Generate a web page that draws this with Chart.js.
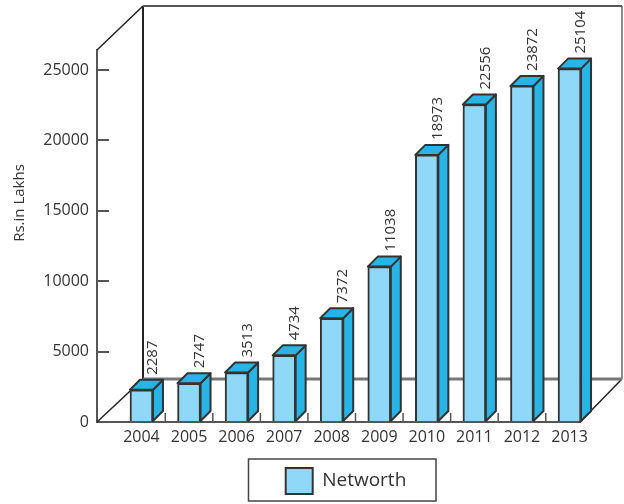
<!DOCTYPE html>
<html>
<head>
<meta charset="utf-8">
<title>Networth</title>
<script src="https://cdn.jsdelivr.net/npm/chart.js@4"></script>
<style>
  html, body { margin: 0; padding: 0; background: #fff; }
  canvas { display: block; }
</style>
</head>
<body>
<canvas id="myChart" width="624" height="504"></canvas>
<script>
var years = [2004, 2005, 2006, 2007, 2008, 2009, 2010, 2011, 2012, 2013];
var networth = [2287, 2747, 3513, 4734, 7372, 11038, 18973, 22556, 23872, 25104];
var yTicks = [0, 5000, 10000, 15000, 20000, 25000];

var fontFamily = '"Open Sans", "Noto Sans", sans-serif';
var textColor = '#333';
var lineColor = '#555';
var frontColor = '#8fd8f8';
var faceColor = '#29b4e6';
var edgeColor = '#333';

// depth of the box behind the plot, and of each bar
var wallDx = 46, wallDy = -43;
var barDx = 10, barDy = -10;

function line(ctx, x1, y1, x2, y2, color, width) {
  ctx.strokeStyle = color;
  ctx.lineWidth = width;
  ctx.beginPath();
  ctx.moveTo(x1, y1);
  ctx.lineTo(x2, y2);
  ctx.stroke();
}

// back wall, floor edges and the small separators between the years
var boxPlugin = {
  id: 'box',
  beforeDatasetsDraw: function (chart) {
    var ctx = chart.ctx, a = chart.chartArea, xs = chart.scales.x;
    var wx = a.left + wallDx, wr = a.right + wallDx - 4, wb = a.bottom + wallDy, wt = a.top - 44;
    ctx.save();
    line(ctx, a.left, a.top, wx, wt, '#222', 1.5);
    line(ctx, wx, wt, wx, wb, '#222', 2);
    line(ctx, wx, wt, wr, wt, lineColor, 2);
    line(ctx, wr, wt, wr, wb, '#666', 1.5);
    line(ctx, a.left, a.bottom, wx, wb, '#222', 1.5);
    line(ctx, a.right, a.bottom, wr, wb, '#222', 1.5);
    line(ctx, wx, wb, wr, wb, '#777', 3);
    years.slice(0, -1).forEach(function (year) {
      var px = xs.getPixelForValue(year + 0.5);
      line(ctx, px, a.bottom, px, a.bottom - 9, lineColor, 1.5);
    });
    ctx.restore();
  }
};

// side and top faces of the bars, then the rotated value above each one
var barFacesPlugin = {
  id: 'barFaces',
  afterLayout: function (chart) {
    chart.legend.left += 7.5;
    chart.legend.right += 7.5;
  },
  afterDatasetsDraw: function (chart) {
    var ctx = chart.ctx;
    var bars = chart.getDatasetMeta(0).data;
    ctx.save();
    ctx.lineJoin = 'round';
    bars.forEach(function (bar, i) {
      var p = bar.getProps(['x', 'y', 'base', 'width'], true);
      var l = p.x - p.width / 2, r = p.x + p.width / 2;
      ctx.fillStyle = faceColor;
      ctx.strokeStyle = edgeColor;
      ctx.lineWidth = 2;
      ctx.beginPath();
      ctx.moveTo(r, p.y);
      ctx.lineTo(r + barDx, p.y + barDy);
      ctx.lineTo(r + barDx, p.base + barDy);
      ctx.lineTo(r, p.base);
      ctx.closePath();
      ctx.fill();
      ctx.stroke();
      ctx.beginPath();
      ctx.moveTo(l, p.y);
      ctx.lineTo(l + barDx, p.y + barDy);
      ctx.lineTo(r + barDx, p.y + barDy);
      ctx.lineTo(r, p.y);
      ctx.closePath();
      ctx.fill();
      ctx.stroke();

      ctx.save();
      ctx.translate(p.x + 11, p.y + barDy - 5);
      ctx.rotate(-Math.PI / 2);
      ctx.fillStyle = textColor;
      ctx.font = '15px ' + fontFamily;
      ctx.textAlign = 'left';
      ctx.textBaseline = 'middle';
      ctx.fillText(String(networth[i]), 0, 0);
      ctx.restore();
    });
    ctx.restore();
  },
  // axis title and the frame around the legend
  afterDraw: function (chart) {
    var ctx = chart.ctx;
    ctx.save();
    ctx.translate(20, 203);
    ctx.rotate(-Math.PI / 2);
    ctx.fillStyle = textColor;
    ctx.font = '15px ' + fontFamily;
    ctx.textAlign = 'center';
    ctx.textBaseline = 'middle';
    ctx.fillText('Rs.in Lakhs', 0, 0);
    ctx.restore();

    var hit = chart.legend.legendHitBoxes[0];
    if (!hit) return;
    ctx.save();
    ctx.strokeStyle = '#444';
    ctx.lineWidth = 1.5;
    ctx.strokeRect(248.5, hit.top + hit.height / 2 - 22, 187.5, 42);
    ctx.restore();
  }
};

var chart = new Chart(document.getElementById('myChart').getContext('2d'), {
  type: 'bar',
  data: {
    datasets: [{
      label: 'Networth',
      data: years.map(function (year, i) { return { x: year, y: networth[i] }; }),
      backgroundColor: frontColor,
      borderColor: edgeColor,
      borderWidth: 2,
      barThickness: 23
    }]
  },
  plugins: [boxPlugin, barFacesPlugin],
  options: {
    responsive: false,
    animation: false,
    layout: { padding: { top: 50, right: 44, left: 0, bottom: 0 } },
    plugins: {
      tooltip: { enabled: false },
      legend: {
        position: 'bottom',
        fullSize: false,
        labels: {
          boxWidth: 27,
          boxHeight: 26,
          padding: 8,
          color: textColor,
          font: { family: fontFamily, size: 19 }
        }
      }
    },
    scales: {
      x: {
        type: 'linear',
        bounds: 'data',
        offset: false,
        min: 2003.065,
        max: 2013.22,
        afterBuildTicks: function (scale) {
          scale.ticks = years.map(function (year) { return { value: year }; });
        },
        afterFit: function (scale) { scale.height = 38; },
        grid: { display: false, drawTicks: false },
        border: { color: lineColor, width: 2 },
        ticks: {
          autoSkip: false,
          maxRotation: 0,
          padding: 6,
          color: textColor,
          font: { family: fontFamily, size: 16 },
          callback: function (value) { return String(value); }
        }
      },
      y: {
        bounds: 'data',
        min: 0,
        max: 26425,
        afterBuildTicks: function (scale) {
          scale.ticks = yTicks.map(function (v) { return { value: v }; });
        },
        afterFit: function (scale) { scale.width = 97; },
        grid: { drawOnChartArea: false, tickLength: -12, color: lineColor, lineWidth: 2 },
        border: { color: lineColor, width: 2 },
        ticks: {
          padding: 20,
          color: textColor,
          font: { family: fontFamily, size: 16 },
          callback: function (value) { return String(value); }
        }
      }
    }
  }
});
</script>
</body>
</html>
